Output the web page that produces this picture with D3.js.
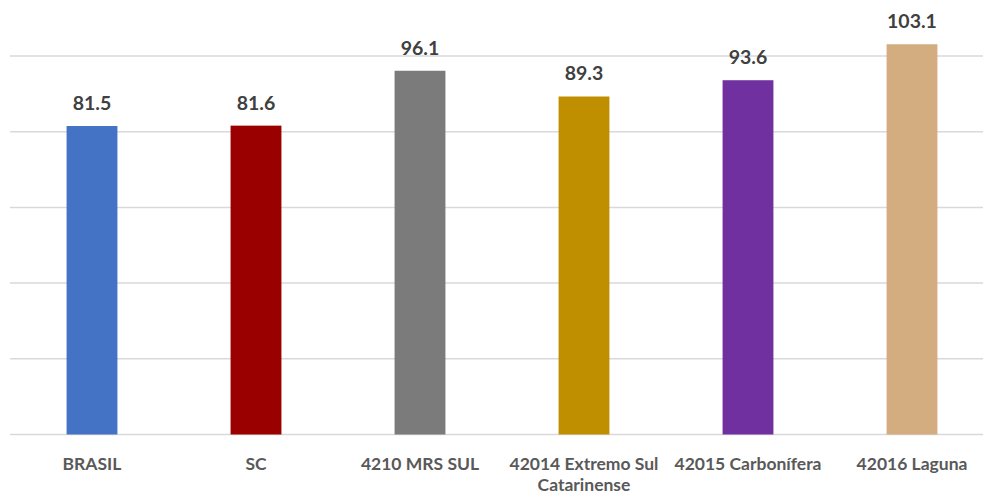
<!DOCTYPE html>
<html>
<head>
<meta charset="utf-8">
<script src="https://cdn.jsdelivr.net/npm/d3@7"></script>
<style>
  html, body { margin: 0; padding: 0; background: #ffffff; }
  svg { display: block; }
</style>
</head>
<body>
<svg id="chart" width="983" height="494"></svg>
<script>
// Regions and their index values
const categories = ["BRASIL", "SC", "4210 MRS SUL", "42014 Extremo Sul Catarinense", "42015 Carbonífera", "42016 Laguna"];
const values = [81.5, 81.6, 96.1, 89.3, 93.6, 103.1];
const colors = ["#4472C4", "#9A0000", "#7B7B7B", "#BF8F00", "#7030A0", "#D3AC7F"];
const gridTicks = [0, 20, 40, 60, 80, 100];

const W = 983, H = 494;
const svg = d3.select("#chart");
const font = "Lato, 'Open Sans', sans-serif";

const x = d3.scaleBand().domain(categories).range([10, 994]).padding(0);
const y = d3.scaleLinear().domain([0, 100]).range([434.5, 56]);
const barW = x.bandwidth() * 0.31;

// Horizontal gridlines
svg.append("g")
  .selectAll("line")
  .data(gridTicks)
  .join("line")
  .attr("x1", 10)
  .attr("x2", W)
  .attr("y1", d => y(d))
  .attr("y2", d => y(d))
  .attr("stroke", "#D9D9D9")
  .attr("stroke-width", 1.5);

// Bars
svg.append("g")
  .selectAll("rect")
  .data(categories)
  .join("rect")
  .attr("x", d => x(d) + x.bandwidth() / 2 - barW / 2)
  .attr("width", barW)
  .attr("y", (d, i) => y(values[i]))
  .attr("height", (d, i) => y(0) - y(values[i]))
  .attr("fill", (d, i) => colors[i]);

// Value labels above bars
svg.append("g")
  .selectAll("text")
  .data(categories)
  .join("text")
  .attr("x", d => x(d) + x.bandwidth() / 2)
  .attr("y", (d, i) => y(values[i]) - 16)
  .attr("text-anchor", "middle")
  .attr("font-family", font)
  .attr("font-weight", 700)
  .attr("font-size", 19.5)
  .attr("fill", "#404040")
  .text((d, i) => values[i].toFixed(1));

// Category labels, wrapped to the band width
const catG = svg.append("g");
categories.forEach(c => {
  const cx = x(c) + x.bandwidth() / 2;
  const t = catG.append("text")
    .attr("x", cx)
    .attr("y", 470)
    .attr("text-anchor", "middle")
    .attr("font-family", font)
    .attr("font-weight", 700)
    .attr("font-size", 17.5)
    .attr("fill", "#595959");
  const words = c.split(" ");
  let line = [];
  let tspan = t.append("tspan").attr("x", cx).attr("dy", 0);
  words.forEach(w => {
    line.push(w);
    tspan.text(line.join(" "));
    if (tspan.node().getComputedTextLength() > x.bandwidth() - 4 && line.length > 1) {
      line.pop();
      tspan.text(line.join(" "));
      line = [w];
      tspan = t.append("tspan").attr("x", cx).attr("dy", 21).text(w);
    }
  });
});
</script>
</body>
</html>
